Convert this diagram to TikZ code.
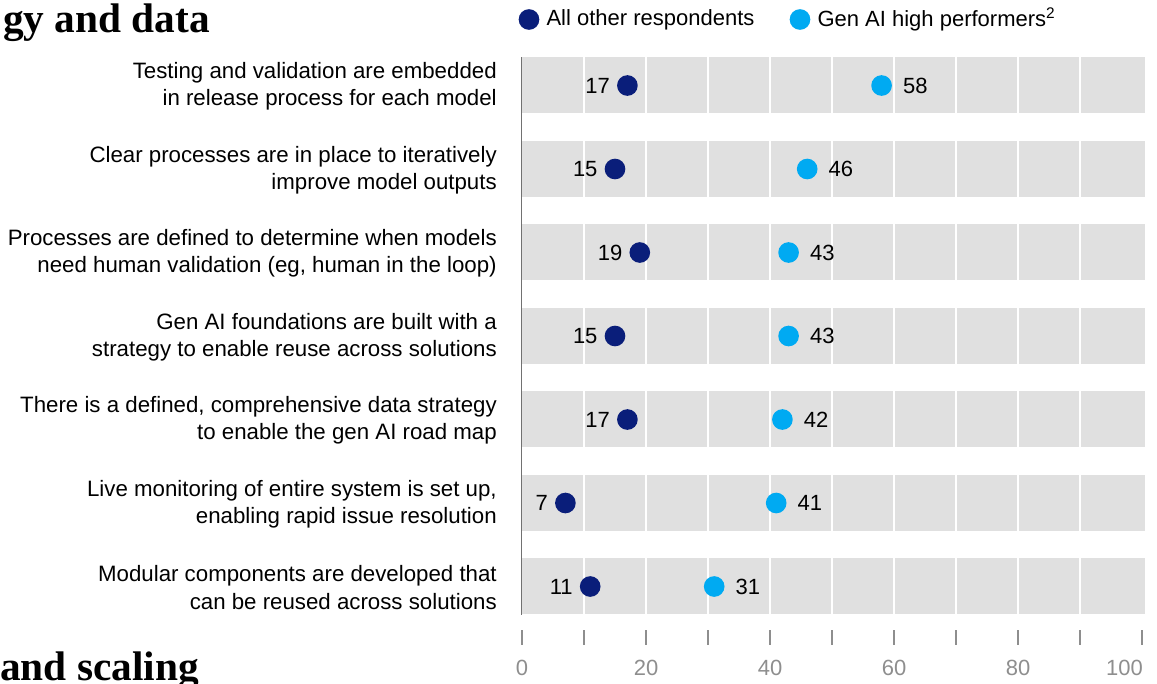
\documentclass[tikz,border=0pt]{standalone}
\usepackage{fontspec}
\setmainfont{Liberation Sans}
\newfontfamily\titlefont{Liberation Serif}
\usetikzlibrary{positioning}
\definecolor{navy}{HTML}{0A1E7A}
\definecolor{lightblue}{HTML}{00AAF2}
\definecolor{bandgray}{HTML}{E0E0E0}
\definecolor{tickgray}{HTML}{8E8E8E}
\tikzset{
  dotother/.style={circle,fill=navy,minimum size=15.5pt,inner sep=0pt},
  dothigh/.style={circle,fill=lightblue,minimum size=15.5pt,inner sep=0pt},
  vallab/.style={inner sep=0pt,font=\fontsize{16.5}{19}\selectfont},
  rowlab/.style={anchor=east,align=right,inner sep=0pt,font=\fontsize{16.7}{20.5}\selectfont},
  titlelab/.style={inner sep=0pt,font=\titlefont\bfseries\fontsize{31}{36}\selectfont}
}
\begin{document}
\begin{tikzpicture}[x=0.75pt,y=-0.75pt]
\useasboundingbox (0,0) rectangle (1157,683);
% cut off section titles
\node[titlelab,anchor=base east] (ttop) at (210,32) {gy and data};
\node[titlelab,anchor=base west] (tbot) at (0,680) {and scaling};
% legend
\node[dotother] (lgother) at (529,19.5) {};
\node[vallab,right=5pt of lgother] (lgothertext) {All other respondents};
\node[dothigh] (lghigh) at (800,19.5) {};
\node[vallab,right=5pt of lghigh] (lghightext) {Gen AI high performers\textsuperscript{2}};
% bands
\foreach \i in {1,...,7}
  \fill[bandgray] (521,{85.5+83.5*(\i-1)-28.5}) rectangle (1145,{85.5+83.5*(\i-1)+27.5});
\foreach \v in {10,20,...,90}
  \draw[white,line width=1.5pt] ({522+6.2*\v},57) -- ({522+6.2*\v},615);
\draw[tickgray!80!black,line width=0.6pt] (521,57) coordinate (axtop) -- (521,615) coordinate (axbot);
% rows
\foreach \lab/\a/\b [count=\i] in {
  {Testing and validation are embedded\\in release process for each model}/17/58,
  {Clear processes are in place to iteratively\\improve model outputs}/15/46,
  {Processes are defined to determine when models\\need human validation (eg, human in the loop)}/19/43,
  {Gen AI foundations are built with a\\strategy to enable reuse across solutions}/15/43,
  {There is a defined, comprehensive data strategy\\to enable the gen AI road map}/17/42,
  {Live monitoring of entire system is set up,\\enabling rapid issue resolution}/7/41,
  {Modular components are developed that\\can be reused across solutions}/11/31}
{
  \node[rowlab] (lab\i) at (497,{86.5+83.5*(\i-1)}) {\lab};
  \node[dotother] (a\i) at ({522+6.2*\a},{85.5+83.5*(\i-1)}) {};
  \node[dothigh] (b\i) at ({522+6.2*\b},{85.5+83.5*(\i-1)}) {};
  \node[vallab,left=5pt of a\i] (av\i) {\a};
  \node[vallab,right=8pt of b\i] (bv\i) {\b};
}
% axis ticks
\foreach \v in {0,10,...,100}
  \draw[tickgray,line width=1.4pt] ({522+6.2*\v},630) -- ({522+6.2*\v},645);
\foreach \v in {0,20,...,80}
  \node[vallab,text=tickgray] (x\v) at ({522+6.2*\v},668) {\v};
\node[vallab,text=tickgray,anchor=east] (x100) at (1143,668) {100};
\end{tikzpicture}
\end{document}
